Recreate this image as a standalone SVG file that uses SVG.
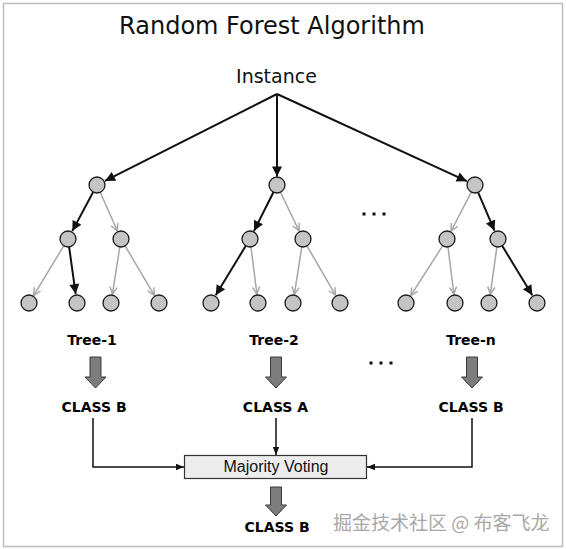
<svg xmlns="http://www.w3.org/2000/svg" width="566" height="549" viewBox="0 0 566 549">
<defs>
<style>
.frame{fill:#fff;stroke:#bdbdbd;stroke-width:1.5}
.node{fill:#c4c4c4;stroke:#1a1a1a;stroke-width:1.3}
.blk{stroke:#111;stroke-width:2;fill:none;marker-end:url(#ab)}
.gry{stroke:#a6a6a6;stroke-width:1.5;fill:none;marker-end:url(#ag)}
.thin{stroke:#111;stroke-width:1.5;fill:none;marker-end:url(#as)}
.big{fill:#7c7c7c;stroke:#3a3a3a;stroke-width:1}
.title{font-family:"DejaVu Sans",Verdana,sans-serif;font-size:24px;fill:#111;text-anchor:middle}
.inst{font-family:"DejaVu Sans",Verdana,sans-serif;font-size:19px;fill:#111;text-anchor:middle}
.lbl{font-family:"DejaVu Sans",Verdana,sans-serif;font-size:14px;font-weight:bold;fill:#000;text-anchor:middle}
.vote{font-family:"Liberation Sans",Arial,sans-serif;font-size:16px;fill:#111;text-anchor:middle}
.wm{font-family:"Noto Sans CJK SC","Noto Sans",sans-serif;font-size:19px;fill:#a8a8a8}
.dot{fill:#111}
</style>
<marker id="ab" viewBox="0 0 10 10" refX="10" refY="5" markerWidth="11" markerHeight="10" markerUnits="userSpaceOnUse" orient="auto">
<path d="M0,0 L10,5 L0,10 z" fill="#111"/>
</marker>
<marker id="ag" viewBox="0 0 10 10" refX="9" refY="5" markerWidth="9" markerHeight="9" markerUnits="userSpaceOnUse" orient="auto">
<path d="M1,1 L9,5 L1,9" fill="none" stroke="#a6a6a6" stroke-width="1.6"/>
</marker>
<marker id="as" viewBox="0 0 10 10" refX="10" refY="5" markerWidth="8" markerHeight="8" markerUnits="userSpaceOnUse" orient="auto">
<path d="M0,1 L10,5 L0,9 z" fill="#111"/>
</marker>
</defs>
<rect class="frame" x="3.5" y="3.5" width="559" height="543"/>
<text class="title" x="272" y="34">Random Forest Algorithm</text>
<g id="instance"><text class="inst" x="276.5" y="83">Instance</text></g>

<g id="connectors">
<line class="blk" x1="277" y1="94" x2="105" y2="180.9"/>
<line class="blk" x1="277" y1="94" x2="277" y2="176.5"/>
<line class="blk" x1="277" y1="94" x2="466.8" y2="181.2"/>

<line class="blk" x1="93.2" y1="192" x2="72.3" y2="231.1"/>
<line class="gry" x1="100.2" y1="192.3" x2="117.3" y2="230.8"/>
<line class="gry" x1="63.8" y1="245.8" x2="33.7" y2="295.3"/>
<line class="blk" x1="69.1" y1="246.9" x2="75.7" y2="294.1"/>
<line class="gry" x1="119.8" y1="246.9" x2="112.4" y2="294.1"/>
<line class="gry" x1="125.1" y1="245.9" x2="154.4" y2="295.3"/>

<line class="blk" x1="273.4" y1="192.2" x2="254" y2="231"/>
<line class="gry" x1="280.5" y1="192.2" x2="299.1" y2="230.9"/>
<line class="blk" x1="245.8" y1="245.8" x2="215.7" y2="295.3"/>
<line class="gry" x1="251" y1="246.9" x2="256.9" y2="294.1"/>
<line class="gry" x1="301.8" y1="246.9" x2="294.4" y2="294.1"/>
<line class="gry" x1="307" y1="245.9" x2="335.5" y2="295.2"/>

<line class="gry" x1="471.3" y1="192.1" x2="451.1" y2="231"/>
<line class="blk" x1="478.1" y1="192.4" x2="494.5" y2="230.7"/>
<line class="gry" x1="442.7" y1="245.7" x2="410.9" y2="295.4"/>
<line class="gry" x1="448" y1="246.9" x2="453.9" y2="294.1"/>
<line class="gry" x1="496.9" y1="246.9" x2="490.3" y2="294.1"/>
<line class="blk" x1="502.2" y1="245.8" x2="532.3" y2="295.3"/>

<polyline class="thin" points="93,418 93,467 184,467"/>
<line class="thin" x1="276" y1="418" x2="276" y2="455"/>
<polyline class="thin" points="472,418 472,467 367,467"/>

<polygon class="big" points="90,357 101,357 101,377 106,377 95.5,388 85,377 90,377"/>
<polygon class="big" points="270.5,357 281.5,357 281.5,377 286.5,377 276,388 265.5,377 270.5,377"/>
<polygon class="big" points="466.5,357 477.5,357 477.5,377 482.5,377 472,388 461.5,377 466.5,377"/>
<polygon class="big" points="270.5,487 281.5,487 281.5,505 286.5,505 276,516 265.5,505 270.5,505"/>
</g>

<g id="tree-1">
<circle class="node" cx="97" cy="185" r="8"/>
<circle class="node" cx="68" cy="239" r="8"/>
<circle class="node" cx="121" cy="239" r="8"/>
<circle class="node" cx="29" cy="303" r="8"/>
<circle class="node" cx="77" cy="303" r="8"/>
<circle class="node" cx="111" cy="303" r="8"/>
<circle class="node" cx="159" cy="303" r="8"/>
<text class="lbl" x="92" y="345">Tree-1</text>
<text class="lbl" x="94" y="412">CLASS B</text>
</g>
<g id="tree-2">
<circle class="node" cx="277" cy="185" r="8"/>
<circle class="node" cx="250" cy="239" r="8"/>
<circle class="node" cx="303" cy="239" r="8"/>
<circle class="node" cx="211" cy="303" r="8"/>
<circle class="node" cx="258" cy="303" r="8"/>
<circle class="node" cx="293" cy="303" r="8"/>
<circle class="node" cx="340" cy="303" r="8"/>
<text class="lbl" x="274" y="345">Tree-2</text>
<text class="lbl" x="275.5" y="412">CLASS A</text>
</g>
<g id="tree-n">
<circle class="node" cx="475" cy="185" r="8"/>
<circle class="node" cx="447" cy="239" r="8"/>
<circle class="node" cx="498" cy="239" r="8"/>
<circle class="node" cx="406" cy="303" r="8"/>
<circle class="node" cx="455" cy="303" r="8"/>
<circle class="node" cx="489" cy="303" r="8"/>
<circle class="node" cx="537" cy="303" r="8"/>
<text class="lbl" x="471" y="345">Tree-n</text>
<text class="lbl" x="471" y="412">CLASS B</text>
</g>
<g id="ellipsis">
<rect class="dot" x="362.5" y="212.5" width="3" height="3"/>
<rect class="dot" x="372.5" y="212.5" width="3" height="3"/>
<rect class="dot" x="382.5" y="212.5" width="3" height="3"/>
<rect class="dot" x="369.5" y="361.5" width="3" height="3"/>
<rect class="dot" x="379.5" y="361.5" width="3" height="3"/>
<rect class="dot" x="389.5" y="361.5" width="3" height="3"/>
</g>
<g id="majority-voting">
<rect x="184.5" y="455.5" width="182" height="23" fill="#ededed" stroke="#333" stroke-width="1.2"/>
<text class="vote" x="276" y="472">Majority Voting</text>
</g>
<g id="result">
<text class="lbl" x="277" y="532">CLASS B</text>
</g>
<text class="wm" x="333" y="530">掘金技术社区 @ 布客飞龙</text>
</svg>
